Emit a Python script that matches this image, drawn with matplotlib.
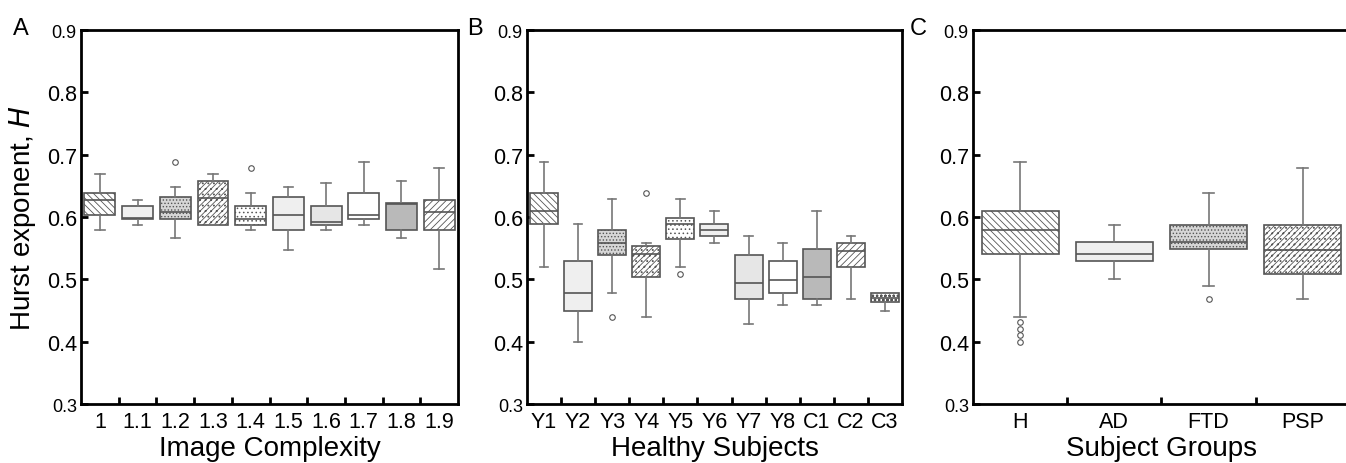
import matplotlib.pyplot as plt
import matplotlib.ticker as mticker

plt.rcParams['font.family'] = ['Liberation Sans', 'DejaVu Sans']
plt.rcParams['hatch.linewidth'] = 0.6

# Panel A: Image complexity
a_labels = ['1', '1.1', '1.2', '1.3', '1.4', '1.5', '1.6', '1.7', '1.8', '1.9']
a_lo = [0.579, 0.587, 0.567, 0.587, 0.579, 0.547, 0.579, 0.587, 0.567, 0.517]
a_q1 = [0.603, 0.597, 0.597, 0.587, 0.587, 0.579, 0.587, 0.597, 0.579, 0.579]
a_med = [0.627, 0.598, 0.608, 0.630, 0.597, 0.603, 0.592, 0.603, 0.621, 0.608]
a_q3 = [0.638, 0.618, 0.633, 0.658, 0.618, 0.633, 0.618, 0.638, 0.623, 0.628]
a_hi = [0.669, 0.628, 0.648, 0.669, 0.638, 0.648, 0.654, 0.689, 0.658, 0.678]
a_fliers = [[], [], [0.689], [], [0.678], [], [], [], [], []]

# Panel B: Healthy subjects
b_labels = ['Y1', 'Y2', 'Y3', 'Y4', 'Y5', 'Y6', 'Y7', 'Y8', 'C1', 'C2', 'C3']
b_lo = [0.520, 0.400, 0.479, 0.439, 0.520, 0.559, 0.429, 0.459, 0.459, 0.469, 0.449]
b_q1 = [0.589, 0.449, 0.539, 0.504, 0.565, 0.569, 0.469, 0.479, 0.469, 0.520, 0.464]
b_med = [0.609, 0.479, 0.559, 0.540, 0.589, 0.579, 0.494, 0.499, 0.504, 0.545, 0.470]
b_q3 = [0.639, 0.529, 0.579, 0.554, 0.599, 0.589, 0.539, 0.529, 0.549, 0.559, 0.479]
b_hi = [0.689, 0.589, 0.629, 0.559, 0.629, 0.609, 0.569, 0.559, 0.609, 0.569, 0.479]
b_fliers = [[], [], [0.439], [0.639], [0.509], [], [], [], [], [], []]

# Panel C: Subject groups
c_labels = ['H', 'AD', 'FTD', 'PSP']
c_lo = [0.440, 0.500, 0.490, 0.469]
c_q1 = [0.540, 0.530, 0.549, 0.509]
c_med = [0.580, 0.540, 0.560, 0.547]
c_q3 = [0.610, 0.560, 0.588, 0.588]
c_hi = [0.689, 0.588, 0.639, 0.679]
c_fliers = [[0.431, 0.421, 0.411, 0.400], [], [0.469], []]

# fill styles (facecolor, hatch)
DIAG_B = ('white', '\\\\\\\\\\')
LIGHT = ('#efefef', None)
MIDGRAY = ('#d6d6d6', '.....')
CROSS = ('white', '//////...')
DOTS = ('white', '....')
LIGHTDOT = ('#e6e6e6', None)
WHITE = ('white', None)
DARK = ('#b9b9b9', None)
DIAG_F = ('white', '/////')
CIRC = ('white', 'oooo')

a_styles = [DIAG_B, LIGHT, MIDGRAY, CROSS, DOTS, LIGHT, LIGHTDOT, WHITE, DARK, DIAG_F]
b_styles = [DIAG_B, LIGHT, MIDGRAY, CROSS, DOTS, LIGHT, LIGHTDOT, WHITE, DARK, DIAG_F, CIRC]
c_styles = [DIAG_B, LIGHT, MIDGRAY, CROSS]


def draw_panel(ax, labels, lo, q1, med, q3, hi, fliers, styles, width, capw):
    stats = []
    for i in range(len(labels)):
        stats.append(dict(whislo=lo[i], q1=q1[i], med=med[i], q3=q3[i],
                          whishi=hi[i], fliers=fliers[i], label=labels[i]))
    bp = ax.bxp(stats, widths=width, capwidths=capw, patch_artist=True,
                boxprops=dict(edgecolor='#555555', linewidth=1.2),
                medianprops=dict(color='#555555', linewidth=1.2),
                whiskerprops=dict(color='#777777', linewidth=1.2),
                capprops=dict(color='#777777', linewidth=1.2),
                flierprops=dict(marker='o', markersize=4, markerfacecolor='none',
                                markeredgecolor='#555555', markeredgewidth=0.8))
    for box, (fc, h) in zip(bp['boxes'], styles):
        box.set_facecolor(fc)
        if h:
            box.set_hatch(h)
    n = len(labels)
    ax.set_xlim(0.5, n + 0.5)
    ax.set_ylim(0.3, 0.9)
    ax.set_xticks(range(1, n + 1))
    ax.set_xticklabels(labels, fontsize=15.5)
    ax.xaxis.set_minor_locator(mticker.FixedLocator([i + 0.5 for i in range(1, n)]))
    ax.tick_params(axis='x', which='major', length=0, pad=5)
    ax.tick_params(axis='x', which='minor', direction='in', length=5, width=2)
    ax.set_yticks([0.3, 0.4, 0.5, 0.6, 0.7, 0.8, 0.9])
    ax.set_yticklabels(['0.3', '0.4', '0.5', '0.6', '0.7', '0.8', '0.9'], fontsize=15.5)
    for t in (ax.get_yticklabels()[0], ax.get_yticklabels()[-1]):
        t.set_fontsize(13)
    ax.tick_params(axis='y', direction='in', length=5, width=2, pad=3)
    for s in ax.spines.values():
        s.set_linewidth(2)


fig = plt.figure(figsize=(13.46, 4.64), dpi=100)
axA = fig.add_axes([0.0602, 0.127, 0.2801, 0.806])
axB = fig.add_axes([0.3915, 0.127, 0.2786, 0.806])
axC = fig.add_axes([0.7229, 0.127, 0.2800, 0.806])

draw_panel(axA, a_labels, a_lo, a_q1, a_med, a_q3, a_hi, a_fliers, a_styles, 0.82, 0.25)
draw_panel(axB, b_labels, b_lo, b_q1, b_med, b_q3, b_hi, b_fliers, b_styles, 0.82, 0.25)
draw_panel(axC, c_labels, c_lo, c_q1, c_med, c_q3, c_hi, c_fliers, c_styles, 0.82, 0.12)

axA.set_xlabel('Image Complexity', fontsize=20, labelpad=2)
axB.set_xlabel('Healthy Subjects', fontsize=20, labelpad=2)
axC.set_xlabel('Subject Groups', fontsize=20, labelpad=2)
axA.set_ylabel('Hurst exponent, $\\mathit{H}$', fontsize=20, labelpad=6)

fig.text(0.0097, 0.925, 'A', fontsize=17)
fig.text(0.347, 0.925, 'B', fontsize=17)
fig.text(0.676, 0.925, 'C', fontsize=17)

fig.savefig('out.png', dpi=100)
